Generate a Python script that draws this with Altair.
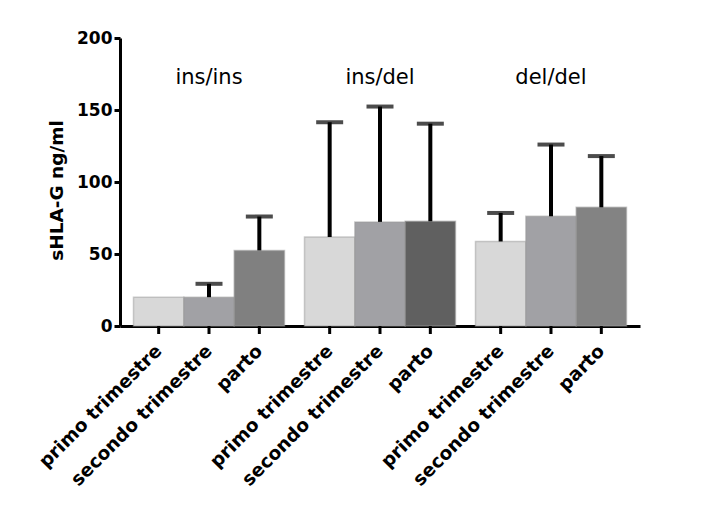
import altair as alt
import pandas as pd

groups = ["ins/ins", "ins/del", "del/del"]
periods = ["primo trimestre", "secondo trimestre", "parto"]
means = [20, 20, 52.5, 61.8, 72.3, 72.7, 58.7, 76.2, 82.4]
uppers = [20, 29.3, 76, 141.5, 152.4, 140.5, 78.5, 126, 118]
fill_colors = ["#d8d8d8", "#a1a1a5", "#808080",
               "#d8d8d8", "#a1a1a5", "#606060",
               "#d8d8d8", "#a1a1a5", "#838383"]

keys = [f"{g}|{p}" for g in groups for p in periods]
df = pd.DataFrame({
    "group": [g for g in groups for _ in periods],
    "period": periods * 3,
    "mean": means,
    "upper": uppers,
    "key": keys,
})
err = df[df["upper"] > df["mean"]]
grp = pd.DataFrame({"group": groups})

FONT = "DejaVu Sans"

x = alt.X("group:N", sort=groups,
          scale=alt.Scale(paddingInner=0.117, paddingOuter=0.079),
          axis=alt.Axis(labels=False, ticks=False, title=None,
                        domainColor="black", domainWidth=3))
xo = alt.XOffset("period:N", sort=periods,
                 scale=alt.Scale(paddingInner=0, paddingOuter=0))
yscale = alt.Scale(domain=[0, 200], nice=False)

bars = alt.Chart(df).mark_bar(strokeWidth=1.5, strokeOpacity=0.5, stroke="#9a9a9a").encode(
    x=x, xOffset=xo,
    y=alt.Y("mean:Q", scale=yscale,
            axis=alt.Axis(values=[0, 50, 100, 150, 200], grid=False,
                          labelFontSize=17, labelFontWeight="bold", labelFont=FONT,
                          labelColor="black", labelPadding=2,
                          tickSize=6, tickWidth=3, tickColor="black",
                          domainColor="black", domainWidth=3,
                          title="sHLA-G ng/ml", titleFontSize=18.5, titleFont=FONT,
                          titleFontWeight="bold", titleColor="black", titlePadding=10,
                          titleY=152)),
    fill=alt.Fill("key:N", scale=alt.Scale(domain=keys, range=fill_colors), legend=None),
)

err_line = alt.Chart(err).mark_rule(strokeWidth=4, color="black").encode(
    x=x, xOffset=xo, y=alt.Y("mean:Q", scale=yscale), y2="upper:Q")
caps = alt.Chart(err).mark_tick(size=27, thickness=4, color="black").encode(
    x=x, xOffset=xo, y=alt.Y("upper:Q", scale=yscale))

xticks = alt.Chart(df).mark_rule(strokeWidth=3, color="black").encode(
    x=x, xOffset=xo, y=alt.value(288), y2=alt.value(296))

xlabels = alt.Chart(df).mark_text(angle=315, align="right", baseline="middle",
                                  font=FONT, fontSize=18.5, fontWeight="bold",
                                  color="black").encode(
    x=x, xOffset=xo, y=alt.value(310), text="period:N")

glabels = alt.Chart(grp).mark_text(font=FONT, fontSize=21, color="black",
                                   baseline="middle").encode(
    x=x, y=alt.value(40), text="group:N")

chart = alt.layer(bars, err_line, caps, xticks, xlabels, glabels).properties(
    width=520, height=288,
    autosize=alt.AutoSizeParams(type="none"),
    padding={"left": 112, "top": 30, "right": 50, "bottom": 170},
).configure(font=FONT).configure_view(stroke=None)

chart.save("out.html", embed_options={"renderer": "svg", "actions": False})
